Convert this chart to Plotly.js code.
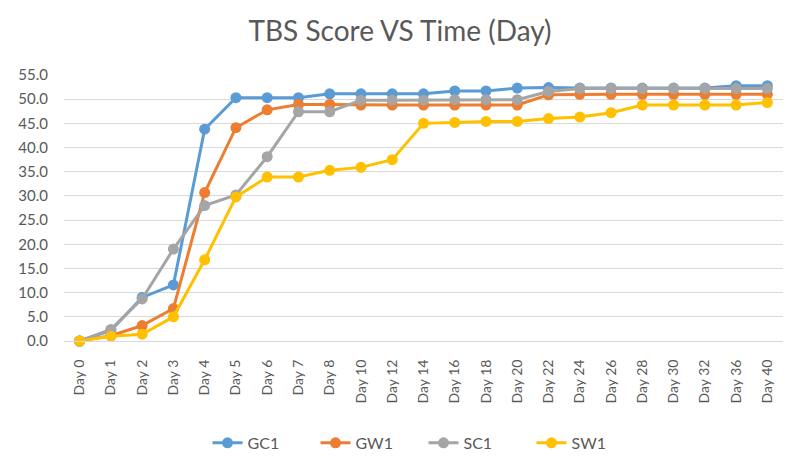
<!DOCTYPE html>
<html>
<head>
<meta charset="utf-8">
<script src="https://cdn.plot.ly/plotly-3.0.1.min.js"></script>
<style>
  html, body { margin: 0; padding: 0; background: #fff; }
  #chart { width: 800px; height: 466px; }
</style>
</head>
<body>
<div id="chart"></div>
<script>
// days on the x axis (categories)
var days = ['Day 0', 'Day 1', 'Day 2', 'Day 3', 'Day 4', 'Day 5', 'Day 6', 'Day 7', 'Day 8',
            'Day 10', 'Day 12', 'Day 14', 'Day 16', 'Day 18', 'Day 20', 'Day 22', 'Day 24',
            'Day 26', 'Day 28', 'Day 30', 'Day 32', 'Day 36', 'Day 40'];

// TBS scores
var gc1 = [0, 2.2, 9.0, 11.6, 43.8, 50.3, 50.3, 50.3, 51.1, 51.1, 51.1, 51.1, 51.7, 51.7, 52.3, 52.4,
           52.3, 52.3, 52.3, 52.3, 52.3, 52.8, 52.8];
var gw1 = [0, 1.1, 3.2, 6.7, 30.7, 44.1, 47.8, 48.9, 48.9, 48.8, 48.8, 48.8, 48.8, 48.8, 48.8, 50.9,
           51.0, 51.0, 51.0, 51.0, 51.0, 51.0, 51.0];
var sc1 = [0, 2.4, 8.7, 19.0, 28.0, 30.2, 38.1, 47.4, 47.4, 49.8, 49.8, 49.8, 49.9, 49.9, 49.9, 51.6,
           52.2, 52.2, 52.2, 52.2, 52.2, 52.2, 52.2];
var sw1 = [0, 1.0, 1.4, 5.0, 16.8, 29.8, 33.9, 33.9, 35.3, 35.9, 37.5, 45.0, 45.2, 45.4, 45.4, 46.0,
           46.3, 47.2, 48.8, 48.8, 48.8, 48.8, 49.3];

var names = ['GC1', 'GW1', 'SC1', 'SW1'];
var colors = ['#5B9BD5', '#ED7D31', '#A5A5A5', '#FFC000'];
var series = [gc1, gw1, sc1, sw1];

var font = 'Lato, "Open Sans", "Liberation Sans", sans-serif';

var plotdata = [];
for (var i = 0; i < series.length; i++) {
    plotdata.push({
        x: days,
        y: series[i],
        type: 'scatter',
        mode: 'lines+markers',
        name: names[i],
        cliponaxis: false,
        line: { color: colors[i], width: 3 },
        marker: { color: colors[i], size: 11 }
    });
}

var layout = {
    width: 800,
    height: 466,
    margin: { l: 64, r: 17, t: 75, b: 125, autoexpand: false },
    paper_bgcolor: '#fff',
    plot_bgcolor: '#fff',
    font: { family: font, color: '#595959', size: 13 },
    title: {
        text: 'TBS Score VS Time (Day)',
        font: { family: font, size: 28, color: '#595959' },
        x: 0.5,
        xanchor: 'center',
        y: 0.933,
        yanchor: 'middle'
    },
    xaxis: {
        type: 'category',
        range: [-0.5, 22.5],
        tickangle: -90,
        showgrid: false,
        showline: true,
        linecolor: '#D9D9D9',
        linewidth: 1,
        ticks: '',
        ticklabelstandoff: 12,
        tickfont: { size: 14, color: '#595959' }
    },
    yaxis: {
        range: [0, 55],
        dtick: 5,
        tick0: 0,
        tickformat: '.1f',
        showgrid: true,
        gridcolor: '#D9D9D9',
        gridwidth: 1,
        zeroline: false,
        showline: false,
        ticks: '',
        ticklabelstandoff: 15,
        tickfont: { size: 15, color: '#595959' }
    },
    showlegend: true,
    legend: {
        orientation: 'h',
        x: 0.5,
        xanchor: 'center',
        y: -0.383,
        yanchor: 'middle',
        font: { size: 16, color: '#595959' },
        entrywidth: 63,
        entrywidthmode: 'pixels'
    }
};

Plotly.newPlot('chart', plotdata, layout, { displayModeBar: false, staticPlot: true });
</script>
</body>
</html>
